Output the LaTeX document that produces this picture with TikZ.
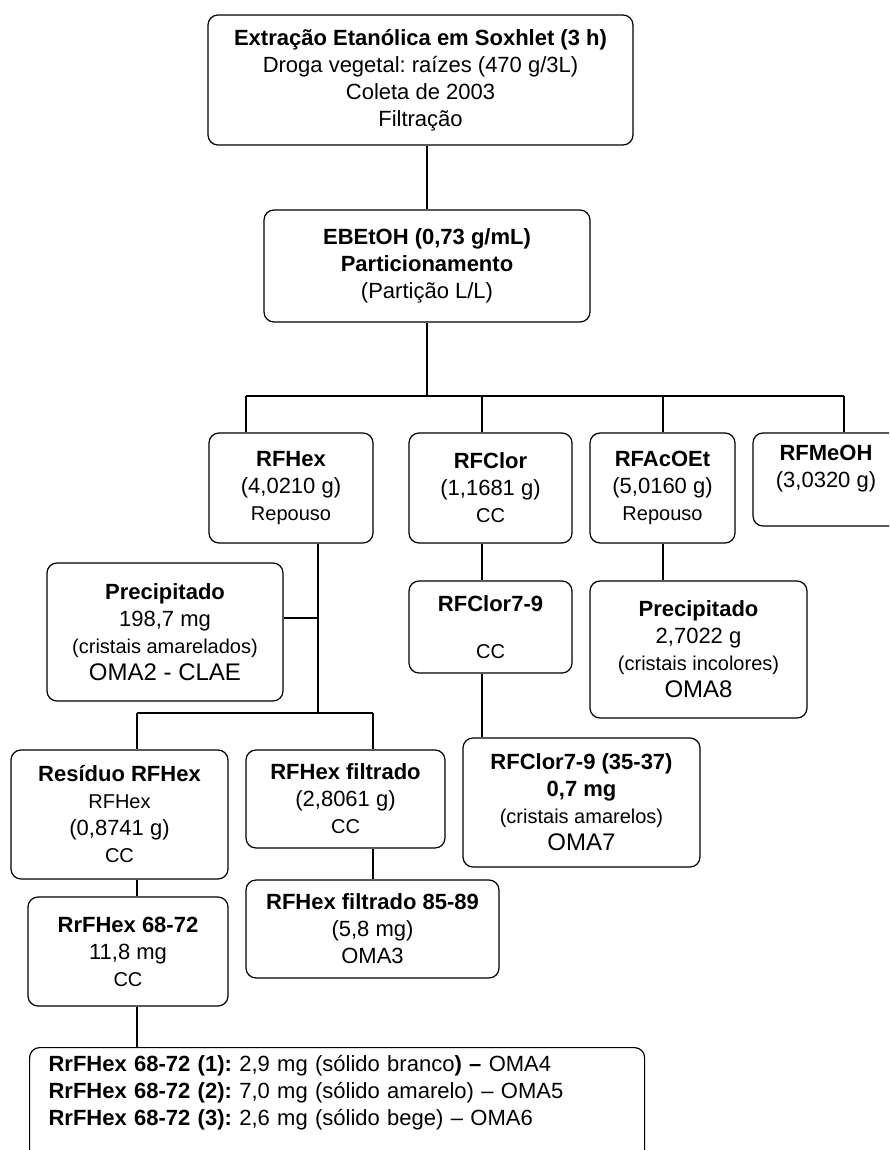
\documentclass[tikz,border=0pt]{standalone}
\usepackage{fontspec}
\setmainfont{Liberation Sans}
\frenchspacing
\newcommand{\fsmall}{\fontsize{10}{13}\selectfont}
\newcommand{\fbig}{\fontsize{12}{14}\selectfont}

\begin{document}
\begin{tikzpicture}[x=0.5pt,y=-0.5pt,line width=0.6pt,
  box/.style={draw,rounded corners=5pt,align=center,inner sep=2pt,
    font=\fontsize{11}{13.5}\selectfont}]
\clip (0,0) rectangle (889,1150);
\useasboundingbox (0,0) rectangle (889,1150);

\node[box,minimum width=212.5pt,minimum height=65pt] (extr) at (420.5,80)
  {\textbf{Extração Etanólica em Soxhlet (3 h)}\\Droga vegetal: raízes (470 g/3L)\\Coleta de 2003\\Filtração};
\node[box,minimum width=163pt,minimum height=56pt] (ebetoh) at (427,266)
  {\textbf{EBEtOH (0,73 g/mL)}\\\textbf{Particionamento}\\(Partição L/L)};

\node[box,minimum width=82pt,minimum height=55pt] (rfhex) at (291,488)
  {\textbf{RFHex}\\(4,0210 g)\\{\fsmall Repouso}};
\node[box,minimum width=81.5pt,minimum height=55pt] (rfclor) at (490.5,488)
  {\textbf{RFClor}\\(1,1681 g)\\{\fsmall CC}};
\node[box,minimum width=72.5pt,minimum height=55pt] (rfacoet) at (662.5,488)
  {\textbf{RFAcOEt}\\(5,0160 g)\\{\fsmall Repouso}};
\node[box,minimum width=73pt,minimum height=46.5pt] (rfmeoh) at (826,479.5)
  {\textbf{RFMeOH}\\(3,0320 g)\\\mbox{}};

\node[box,minimum width=118pt,minimum height=69pt] (prec1) at (165,632)
  {\textbf{Precipitado}\\198,7 mg\\{\fsmall (cristais amarelados)}\\{\fbig OMA2 - CLAE}};
\node[box,minimum width=81.5pt,minimum height=46pt] (rfclorsub) at (490.5,627)
  {\textbf{RFClor7-9}\\[10pt]{\fsmall CC}};
\node[box,minimum width=108.5pt,minimum height=68.5pt] (prec2) at (698.5,649.5)
  {\textbf{Precipitado}\\2,7022 g\\{\fsmall (cristais incolores)}\\{\fbig OMA8}};

\node[box,minimum width=108.5pt,minimum height=64.5pt] (residuo) at (119.5,814.5)
  {\textbf{Resíduo RFHex}\\{\fsmall RFHex}\\(0,8741 g)\\{\fsmall CC}};
\node[box,minimum width=99.5pt,minimum height=49pt] (filtrado) at (345.5,799)
  {\textbf{RFHex filtrado}\\(2,8061 g)\\{\fsmall CC}};
\node[box,minimum width=118.5pt,minimum height=64.5pt] (rfclorfr) at (581.5,802.5)
  {\textbf{RFClor7-9 (35-37)}\\\textbf{0,7 mg}\\{\fsmall (cristais amarelos)}\\{\fbig OMA7}};

\node[box,minimum width=126.5pt,minimum height=49pt] (filtsub) at (372.5,929)
  {\textbf{RFHex filtrado 85-89}\\(5,8 mg)\\OMA3};
\node[box,minimum width=100pt,minimum height=54.5pt] (rrhex) at (128,951.5)
  {\textbf{RrFHex 68-72}\\11,8 mg\\{\fsmall CC}};

\node[box,anchor=north west,text width=288.5pt,align=left,inner xsep=9.5pt,inner ysep=4pt] (final) at (29,1047)
  {\textbf{RrFHex 68-72 (1):} 2,9 mg (sólido branco\textbf{) --} OMA4\\
   \textbf{RrFHex 68-72 (2):} 7,0 mg (sólido amarelo) -- OMA5\\
   \textbf{RrFHex 68-72 (3):} 2,6 mg (sólido bege) -- OMA6\rule[-17pt]{0pt}{1pt}};

\coordinate (bus) at (427,396);
\coordinate (dhex) at (246,396);
\coordinate (dclor) at (482,396);
\coordinate (dacoet) at (663,396);
\coordinate (dmeoh) at (844,396);
\coordinate (split) at (318,713);
\coordinate (pbr) at (318,618);
\coordinate (dres) at (137,713);
\coordinate (dfil) at (373,713);

\draw (ebetoh.north) -- (ebetoh.north |- extr.south);
\draw (ebetoh.south) -- (bus);
\draw (dhex) -- (dmeoh);
\draw (dhex) -- (dhex |- rfhex.north);
\draw (dclor) -- (dclor |- rfclor.north);
\draw (dacoet) -- (dacoet |- rfacoet.north);
\draw (dmeoh) -- (dmeoh |- rfmeoh.north);

\draw (split |- rfhex.south) -- (split);
\draw (pbr) -- (pbr -| prec1.east);
\draw (dres) -- (dfil);
\draw (dres) -- (dres |- residuo.north);
\draw (dfil) -- (dfil |- filtrado.north);
\draw (dres |- residuo.south) -- (dres |- rrhex.north);
\draw (dres |- rrhex.south) -- (dres |- final.north);
\draw (dfil |- filtrado.south) -- (dfil |- filtsub.north);

\draw (dclor |- rfclor.south) -- (dclor |- rfclorsub.north);
\draw (dclor |- rfclorsub.south) -- (dclor |- rfclorfr.north);
\draw (dacoet |- rfacoet.south) -- (dacoet |- prec2.north);
\end{tikzpicture}
\end{document}
